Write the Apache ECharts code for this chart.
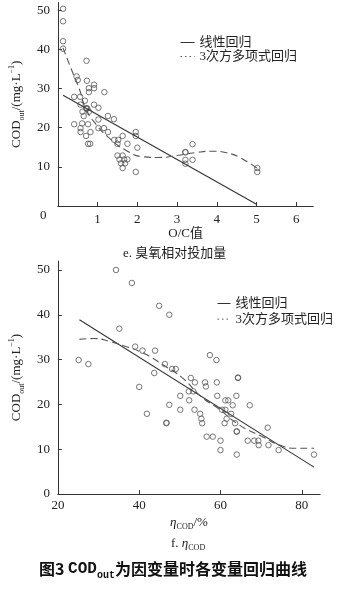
<!DOCTYPE html>
<html><head><meta charset="utf-8">
<script src="https://cdn.jsdelivr.net/npm/echarts@6/dist/echarts.min.js"></script>
<style>html,body{margin:0;padding:0;background:#fff}#c{width:357px;height:592px}</style>
</head><body><div id="c"></div>
<script>
// e. O/C ratio panel
const ocPoints = [
 [0.13,50.4],[0.13,47.2],[0.13,42.1],[0.13,40.2],
 [0.72,37.1],[0.47,33.1],[0.50,32.2],[0.73,32.0],[0.91,31.0],[0.91,30.1],[0.78,30.1],[0.78,29.1],
 [1.17,29.1],[0.41,27.9],[0.56,27.9],[0.68,26.9],[0.57,25.9],[0.91,25.9],[1.02,25.1],[0.71,24.9],
 [0.74,24.9],[0.72,25.0],[0.62,24.1],[0.78,24.1],[0.65,23.0],[1.26,23.0],[1.41,22.2],[1.02,22.1],
 [0.61,21.1],[0.41,20.9],[0.76,20.9],[1.16,19.9],[1.02,19.9],[0.57,19.9],[0.57,18.9],[0.82,18.9],
 [1.26,18.9],[0.71,17.9],[1.96,18.9],[1.96,17.9],[1.63,17.9],[1.42,16.9],[1.52,16.9],[1.50,15.9],
 [1.75,15.9],[0.76,15.9],[0.81,15.9],[2.00,14.9],[1.50,12.9],[1.63,12.9],[1.55,11.9],[1.67,11.9],
 [1.75,11.9],[1.59,10.9],[1.69,10.9],[1.63,9.7],[1.96,8.7],
 [3.39,15.8],[3.21,13.7],[3.21,13.8],[3.21,11.8],[3.21,10.8],[3.39,11.8],[5.02,9.7],[5.02,8.7]
];
const ocLinear = [[0.13,28.3],[5.0,0.45]];
const ocCubic = [[0.13,40.4],[0.32,35.4],[0.54,29.9],[0.70,24.9],[0.95,21.0],[1.31,17.2],[1.72,14.2],
 [2.13,12.6],[2.53,12.4],[3.0,12.9],[3.5,13.7],[3.91,14.0],[4.25,13.6],[4.6,12.3],[5.02,9.6]];
const ocOriginLabel = '0';

// f. eta_COD panel
const etaPoints = [
 [25.1,29.9],[27.5,29.0],[34.3,50.0],[38.2,47.1],[35.1,36.9],[44.9,42.0],[47.4,40.0],[39.0,32.9],
 [40.8,32.0],[43.9,32.0],[46.3,29.0],[48.1,27.9],[49.0,27.9],[43.7,27.0],[40.0,23.9],[52.7,25.9],
 [53.7,24.9],[50.1,21.9],[52.2,22.9],[53.3,22.9],[52.3,20.9],[47.4,19.9],[50.1,18.8],[53.6,18.8],
 [41.9,17.9],[46.7,15.8],[46.7,15.9],
 [57.4,31.0],[59.0,29.9],[56.2,24.9],[56.4,24.0],[59.1,24.9],[64.3,25.9],[64.3,26.0],[59.2,21.9],
 [63.9,21.9],[61.2,20.9],[61.9,20.9],[63.0,19.8],[67.2,19.8],[60.4,18.8],[61.2,18.8],[55.0,17.9],
 [62.6,17.9],[55.3,16.8],[61.5,16.8],[55.5,15.8],[61.0,15.8],[63.6,15.8],[71.6,14.8],[64.0,13.9],
 [64.0,14.0],[56.6,12.8],[58.1,12.8],[60.0,11.9],[66.7,11.9],[68.3,11.9],[69.3,11.9],[69.4,10.9],
 [71.8,10.9],[74.3,9.8],[60.0,9.8],[64.0,8.8],[83.0,8.8]
];
const etaLinear = [[25.3,38.9],[83.0,6.0]];
const etaCubic = [[25.3,34.5],[28.9,34.7],[32.9,34.0],[36.2,33.1],[41.1,31.4],[45.9,28.8],[50.8,25.8],
 [55.0,21.9],[59.7,18.9],[64.6,15.4],[70.3,12.8],[74.3,11.0],[78.4,10.2],[83.0,10.2]];

const legendLabels = {eLin:'线性回归', eCub:'3次方多项式回归', fLin:'线性回归', fCub:'3次方多项式回归'};
const FONT = "'Liberation Serif','Noto Sans CJK SC',serif";
const CJK = "'Noto Sans CJK SC','Liberation Serif',sans-serif";

const axisCommon = {
  axisLine:{show:true,onZero:false,lineStyle:{color:'#333',width:1}},
  axisTick:{show:true,inside:true,length:4,lineStyle:{color:'#333'}},
  splitLine:{show:false}
};
const yName = 'COD{s|out}/(mg·L{p|−1})';
const yNameStyle = {fontFamily:FONT,fontSize:13,color:'#222',lineHeight:18,
  rich:{s:{fontFamily:FONT,fontSize:8,verticalAlign:'bottom',color:'#222'},
        p:{fontFamily:FONT,fontSize:8,verticalAlign:'top',color:'#222'}}};
const legendCommon = {
  orient:'vertical',itemWidth:14,itemHeight:8,padding:0,
  textStyle:{fontFamily:FONT,fontSize:13,color:'#222',lineHeight:13},
  itemStyle:{color:'rgba(0,0,0,0)',borderColor:'rgba(0,0,0,0)',borderWidth:0,opacity:0},
  lineStyle:{width:1},
  formatter:n=>legendLabels[n]
};

const chart = echarts.init(document.getElementById('c'), null, {renderer:'canvas'});
chart.setOption({
  animation:false,
  backgroundColor:'#fff',
  title:[
    {text:'e. 臭氧相对投加量',left:118,top:242,textStyle:{fontFamily:FONT,fontSize:13,fontWeight:'normal',color:'#222'}},
    {text:'f. {i|η}{s|COD}',left:166,top:531,textStyle:{fontFamily:FONT,fontSize:13,fontWeight:'normal',color:'#222',lineHeight:16,
      rich:{i:{fontFamily:FONT,fontStyle:'italic',fontSize:13,color:'#222'},s:{fontFamily:FONT,fontSize:8,verticalAlign:'bottom',color:'#222'}}}},
    {text:'{b|图3 }{m|COD}{s|out}{b|为因变量时各变量回归曲线}',left:34,top:553,
      textStyle:{lineHeight:22,rich:{
        b:{fontFamily:CJK,fontWeight:'bold',fontSize:16,color:'#111'},
        m:{fontFamily:"'Liberation Mono','DejaVu Sans Mono',monospace",fontWeight:'bold',fontSize:16,color:'#111'},
        s:{fontFamily:"'Liberation Mono','DejaVu Sans Mono',monospace",fontWeight:'bold',fontSize:10,color:'#111',verticalAlign:'bottom'}}}}
  ],
  graphic:[
    {type:'text',left:40,top:209,silent:true,
     style:{text:ocOriginLabel,fontFamily:'Liberation Serif',fontSize:13,fill:'#222'}}
  ],
  legend:[
    Object.assign({}, legendCommon, {left:180,top:36,itemGap:1,
      data:[{name:'eLin'},{name:'eCub',lineStyle:{type:[1.5,3]}}]}),
    Object.assign({}, legendCommon, {left:217,top:297,itemGap:2.6,itemWidth:13,
      data:[{name:'fLin'},{name:'fCub',lineStyle:{type:[1.5,3]}}]})
  ],
  grid:[
    {left:49.5,top:2.5,width:263.8,height:203.5},
    {left:55.1,top:261,width:265,height:233}
  ],
  xAxis:[
    Object.assign({}, axisCommon, {type:'value',gridIndex:0,min:0,max:6.43,interval:1,
      name:'O/C值',nameLocation:'middle',nameGap:19,
      nameTextStyle:{fontFamily:FONT,fontSize:13,color:'#222'},
      axisLabel:{color:'#222',fontFamily:FONT,fontSize:13,margin:7,showMaxLabel:false,
        formatter:v=> v===0 ? '' : String(v)}}),
    Object.assign({}, axisCommon, {type:'value',gridIndex:1,min:20,max:84.5,interval:20,
      name:'{i|η}{s|COD}/%',nameLocation:'middle',nameGap:21,
      nameTextStyle:{fontFamily:FONT,fontSize:13,color:'#222',lineHeight:16,
        rich:{i:{fontFamily:FONT,fontStyle:'italic',fontSize:13,color:'#222'},s:{fontFamily:FONT,fontSize:8,verticalAlign:'bottom',color:'#222'}}},
      axisLabel:{color:'#222',fontFamily:FONT,fontSize:13,margin:5,showMaxLabel:false}})
  ],
  yAxis:[
    Object.assign({}, axisCommon, {type:'value',gridIndex:0,min:0,max:52,interval:10,
      name:yName,nameLocation:'middle',nameGap:29,nameTextStyle:yNameStyle,
      axisLabel:{color:'#222',fontFamily:FONT,fontSize:13,margin:8,showMaxLabel:false,formatter:v=> v===0 ? '' : String(v)}}),
    Object.assign({}, axisCommon, {type:'value',gridIndex:1,min:0,max:52,interval:10,
      name:yName,nameLocation:'middle',nameGap:26,nameTextStyle:yNameStyle,
      axisLabel:{color:'#222',fontFamily:FONT,fontSize:13,margin:8,showMaxLabel:false}})
  ],
  series:[
    {type:'scatter',name:'e-data',xAxisIndex:0,yAxisIndex:0,data:ocPoints,symbol:'circle',symbolSize:5.5,z:2,
     itemStyle:{color:'rgba(0,0,0,0)',borderColor:'#555',borderWidth:1}},
    {type:'line',name:'eLin',xAxisIndex:0,yAxisIndex:0,data:ocLinear,symbol:'none',z:3,
     itemStyle:{color:'#333'},lineStyle:{color:'#333',width:1.1}},
    {type:'line',name:'eCub',xAxisIndex:0,yAxisIndex:0,data:ocCubic,symbol:'none',smooth:true,z:3,
     itemStyle:{color:'#555'},lineStyle:{color:'#555',width:1.1,type:[7,4]}},
    {type:'scatter',name:'f-data',xAxisIndex:1,yAxisIndex:1,data:etaPoints,symbol:'circle',symbolSize:5.5,z:2,
     itemStyle:{color:'rgba(0,0,0,0)',borderColor:'#555',borderWidth:1}},
    {type:'line',name:'fLin',xAxisIndex:1,yAxisIndex:1,data:etaLinear,symbol:'none',z:3,
     itemStyle:{color:'#333'},lineStyle:{color:'#333',width:1.1}},
    {type:'line',name:'fCub',xAxisIndex:1,yAxisIndex:1,data:etaCubic,symbol:'none',smooth:true,z:3,
     itemStyle:{color:'#555'},lineStyle:{color:'#555',width:1.1,type:[7,4]}}
  ]
});
</script>
</body></html>
